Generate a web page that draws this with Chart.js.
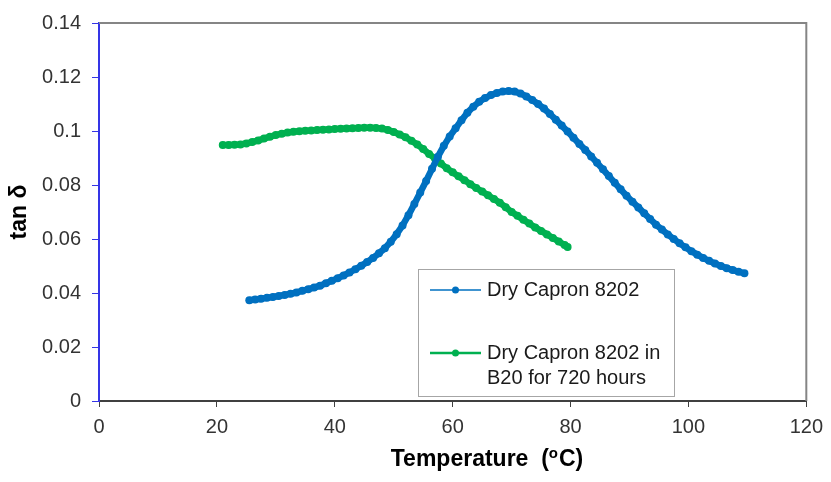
<!DOCTYPE html>
<html>
<head>
<meta charset="utf-8">
<script src="https://cdn.jsdelivr.net/npm/chart.js@4.4.0/dist/chart.umd.min.js"></script>
<style>
  html, body { margin: 0; padding: 0; background: #fff; }
</style>
</head>
<body>
<canvas id="tanChart" width="831" height="482"></canvas>
<script>
// Dry Capron 8202
const dryTemp = [25.5, 26.5, 27.5, 28.5, 29.5, 30.5, 31.5, 32.5, 33.5, 34.5,
  35.5, 36.5, 37.5, 38.5, 39.5, 40.5, 41.5, 42.5, 43.5, 44.5,
  45.5, 46.5, 47.5, 48.5, 49.5, 50.5, 51.5, 52.5, 53.5, 54.5,
  55.5, 56.5, 57.5, 58.5, 59.5, 60.5, 61.5, 62.5, 63.5, 64.5,
  65.5, 66.5, 67.5, 68.5, 69.5, 70.5, 71.5, 72.5, 73.5, 74.5,
  75.5, 76.5, 77.5, 78.5, 79.5, 80.5, 81.5, 82.5, 83.5, 84.5,
  85.5, 86.5, 87.5, 88.5, 89.5, 90.5, 91.5, 92.5, 93.5, 94.5,
  95.5, 96.5, 97.5, 98.5, 99.5, 100.5, 101.5, 102.5, 103.5, 104.5,
  105.5, 106.5, 107.5, 108.5, 109.5];
const dryTan = [0.0373, 0.0376, 0.0379, 0.0382, 0.0385, 0.0389, 0.0393, 0.0397, 0.0402, 0.0408,
  0.0414, 0.0420, 0.0427, 0.0436, 0.0445, 0.0455, 0.0465, 0.0476, 0.0488, 0.0501,
  0.0515, 0.0530, 0.0547, 0.0566, 0.0590, 0.0618, 0.0650, 0.0688, 0.0730, 0.0772,
  0.0815, 0.0860, 0.0905, 0.0945, 0.0980, 0.1010, 0.1040, 0.1068, 0.1090, 0.1108,
  0.1122, 0.1133, 0.1141, 0.1146, 0.1148, 0.1146, 0.1139, 0.1128, 0.1115, 0.1100,
  0.1083, 0.1063, 0.1042, 0.1020, 0.0998, 0.0975, 0.0952, 0.0930, 0.0906, 0.0882,
  0.0858, 0.0833, 0.0808, 0.0784, 0.0760, 0.0738, 0.0717, 0.0695, 0.0674, 0.0653,
  0.0635, 0.0617, 0.0600, 0.0584, 0.0569, 0.0555, 0.0542, 0.0530, 0.0519, 0.0509,
  0.0500, 0.0492, 0.0485, 0.0479, 0.0473];

// Dry Capron 8202 in B20 for 720 hours
const soakTemp = [21, 22, 23, 24, 25, 26, 27, 28, 29, 30,
  31, 32, 33, 34, 35, 36, 37, 38, 39, 40,
  41, 42, 43, 44, 45, 46, 47, 48, 49, 50,
  51, 52, 53, 54, 55, 56, 57, 58, 59, 60,
  61, 62, 63, 64, 65, 66, 67, 68, 69, 70,
  71, 72, 73, 74, 75, 76, 77, 78, 79, 79.5];
const soakTan = [0.0948, 0.0948, 0.0949, 0.0950, 0.0954, 0.0959, 0.0965, 0.0972, 0.0979, 0.0985,
  0.0990, 0.0994, 0.0997, 0.0999, 0.1001, 0.1002, 0.1004, 0.1005, 0.1006, 0.1007,
  0.1008, 0.1009, 0.1010, 0.1011, 0.1012, 0.1012, 0.1011, 0.1009, 0.1004, 0.0996,
  0.0987, 0.0977, 0.0964, 0.0950, 0.0933, 0.0915, 0.0898, 0.0880, 0.0862, 0.0847,
  0.0832, 0.0818, 0.0803, 0.0789, 0.0776, 0.0762, 0.0748, 0.0734, 0.0718, 0.0700,
  0.0686, 0.0671, 0.0657, 0.0643, 0.0630, 0.0617, 0.0604, 0.0591, 0.0578, 0.0570];

const seriesLabels = [["Dry Capron 8202"], ["Dry Capron 8202 in", "B20 for 720 hours"]];
const seriesColors = ["#0070C0", "#00B050"];

const xTickValues = [0, 20, 40, 60, 80, 100, 120];
const xTickLabels = ["0", "20", "40", "60", "80", "100", "120"];
const yTickValues = [0, 0.02, 0.04, 0.06, 0.08, 0.1, 0.12, 0.14];
const yTickLabels = ["0", "0.02", "0.04", "0.06", "0.08", "0.1", "0.12", "0.14"];

const FONT = '"Liberation Sans", Arial, sans-serif';

const toPoints = (xs, ys) => xs.map((x, i) => ({ x: x, y: ys[i] }));

// frame, axis titles and the boxed legend
const decorations = {
    id: "decorations",
    afterDraw(chart) {
        const ctx = chart.ctx;
        const area = chart.chartArea;
        ctx.save();

        // grey top and right edges of the plot area
        ctx.strokeStyle = "#858585";
        ctx.lineWidth = 2;
        ctx.beginPath();
        ctx.moveTo(area.left, area.top);
        ctx.lineTo(area.right, area.top);
        ctx.lineTo(area.right, area.bottom);
        ctx.stroke();

        // x title with raised "o"
        ctx.fillStyle = "#000";
        ctx.textBaseline = "alphabetic";
        const big = "bold 23px " + FONT, small = "bold 15px " + FONT;
        const p1 = "Temperature  (", p2 = "o", p3 = "C)";
        ctx.font = big;
        const w1 = ctx.measureText(p1).width, w3 = ctx.measureText(p3).width;
        ctx.font = small;
        const w2 = ctx.measureText(p2).width + 1;
        let x0 = 487 - (w1 + w2 + w3) / 2;
        ctx.font = big;
        ctx.fillText(p1, x0, 466);
        ctx.font = small;
        ctx.fillText(p2, x0 + w1, 458);
        ctx.font = big;
        ctx.fillText(p3, x0 + w1 + w2, 466);

        // y title
        ctx.save();
        ctx.translate(20, (area.top + area.bottom) / 2);
        ctx.rotate(-Math.PI / 2);
        ctx.textAlign = "center";
        ctx.textBaseline = "middle";
        ctx.font = big;
        ctx.fillText("tan \u03b4", 0, 0);
        ctx.restore();

        // legend box
        const bx = 418, by = 269, bw = 256, bh = 127;
        ctx.fillStyle = "#fff";
        ctx.fillRect(bx, by, bw, bh);
        ctx.strokeStyle = "#a6a6a6";
        ctx.lineWidth = 1;
        ctx.strokeRect(bx + 0.5, by + 0.5, bw, bh);

        const rows = [290, 353];
        ctx.font = "20px " + FONT;
        ctx.textBaseline = "middle";
        ctx.textAlign = "left";
        chart.data.datasets.forEach((ds, i) => {
            const y = rows[i];
            ctx.strokeStyle = ds.borderColor;
            ctx.lineWidth = i === 0 ? 1.5 : 2.5;
            ctx.beginPath();
            ctx.moveTo(430, y);
            ctx.lineTo(481, y);
            ctx.stroke();
            ctx.fillStyle = ds.borderColor;
            ctx.beginPath();
            ctx.arc(455.5, y, 3.5, 0, Math.PI * 2);
            ctx.fill();
            ctx.fillStyle = "#1a1a1a";
            seriesLabels[i].forEach((line, j) => ctx.fillText(line, 487, y + j * 25));
        });
        ctx.restore();
    }
};

document.addEventListener("DOMContentLoaded", () => {
    const ctx = document.getElementById("tanChart").getContext("2d");
    new Chart(ctx, {
        type: "scatter",
        data: {
            datasets: [
                {
                    label: seriesLabels[0].join(" "),
                    data: toPoints(dryTemp, dryTan),
                    borderColor: seriesColors[0],
                    backgroundColor: seriesColors[0],
                    showLine: true,
                    borderWidth: 6.5,
                    borderJoinStyle: "round",
                    borderCapStyle: "round",
                    pointRadius: 4,
                    pointBorderWidth: 0
                },
                {
                    label: seriesLabels[1].join(" "),
                    data: toPoints(soakTemp, soakTan),
                    borderColor: seriesColors[1],
                    backgroundColor: seriesColors[1],
                    showLine: true,
                    borderWidth: 6.5,
                    borderJoinStyle: "round",
                    borderCapStyle: "round",
                    pointRadius: 4,
                    pointBorderWidth: 0
                }
            ]
        },
        options: {
            responsive: false,
            animation: false,
            layout: { padding: { top: 19, right: 24, left: 0, bottom: 0 } },
            plugins: {
                legend: { display: false },
                tooltip: { enabled: false }
            },
            scales: {
                x: {
                    type: "linear",
                    min: 0,
                    max: 120,
                    afterBuildTicks: s => { s.ticks = xTickValues.map(v => ({ value: v })); },
                    afterFit: s => { s.height = 81; },
                    grid: { drawOnChartArea: false, drawTicks: true, tickLength: 6, color: "#404040" },
                    border: { color: "#404040", width: 2 },
                    ticks: {
                        padding: 8,
                        color: "#333",
                        font: { family: FONT, size: 20 },
                        callback: (v, i) => xTickLabels[i]
                    }
                },
                y: {
                    min: 0,
                    max: 0.14,
                    afterBuildTicks: s => { s.ticks = yTickValues.map(v => ({ value: v })); },
                    afterFit: s => { s.width = 99; },
                    grid: { drawOnChartArea: false, drawTicks: true, tickLength: 7, color: "#3535e6" },
                    border: { color: "#3535e6", width: 2 },
                    ticks: {
                        padding: 11,
                        color: "#333",
                        font: { family: FONT, size: 20 },
                        callback: (v, i) => yTickLabels[i]
                    }
                }
            }
        },
        plugins: [decorations]
    });
});
</script>
</body>
</html>
